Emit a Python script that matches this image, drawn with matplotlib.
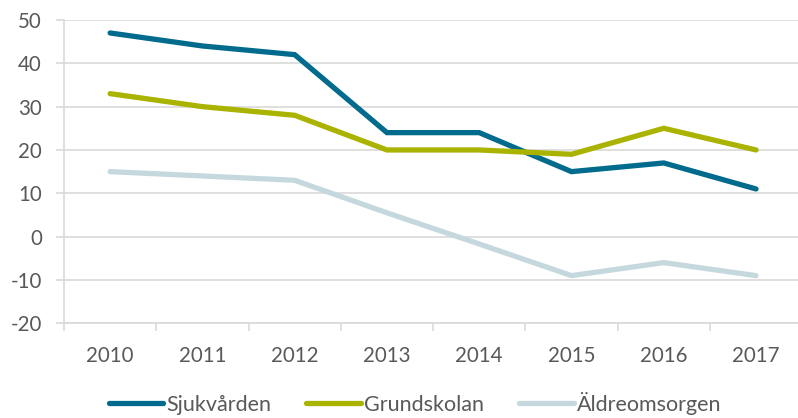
import numpy as np
import matplotlib
matplotlib.use("Agg")
import matplotlib.pyplot as plt
import matplotlib.ticker as ticker

TXTCOLOR = "#595959"
GRIDCOLOR = "#D9D9D9"

years = ["2010", "2011", "2012", "2013", "2014", "2015", "2016", "2017"]
sjukvarden = [47, 44, 42, 24, 24, 15, 17, 11]
grundskolan = [33, 30, 28, 20, 20, 19, 25, 20]
aldreomsorgen = [15, 14, 13, 5.5, -1.7, -9, -6, -9]

series_names = ["Sjukvården", "Grundskolan", "Äldreomsorgen"]
series_colors = ["#006B8C", "#A9B300", "#C5D8DE"]

plt.rcParams["font.family"] = ["Lato", "DejaVu Sans"]
plt.rcParams["axes.unicode_minus"] = False

fig = plt.figure(figsize=(7.98, 4.18), dpi=100)
ax = fig.add_axes([0.0802, 0.2266, 0.925, 0.7256])

x = np.arange(len(years))
for vals, name, col in zip([sjukvarden, grundskolan, aldreomsorgen], series_names, series_colors):
    ax.plot(x, vals, color=col, lw=3.8, label=name, solid_capstyle="round", solid_joinstyle="miter")

ax.set_xlim(-0.5, len(years) - 0.5)
ax.set_ylim(-20, 50)
ax.yaxis.set_major_locator(ticker.MultipleLocator(10))
ax.set_xticks(x)
ax.set_xticklabels(years)
ax.set_xticks(np.arange(-0.5, len(years), 1.0), minor=True)

ax.grid(axis="y", color=GRIDCOLOR, lw=1.2)
ax.set_axisbelow(True)

for s in ["top", "right"]:
    ax.spines[s].set_visible(False)
for s in ["left", "bottom"]:
    ax.spines[s].set_color(GRIDCOLOR)
    ax.spines[s].set_linewidth(1.2)

ax.tick_params(axis="y", length=6, width=1.2, color=GRIDCOLOR, labelcolor=TXTCOLOR,
               labelsize=14.8, pad=10)
ax.tick_params(axis="x", which="major", length=0, labelcolor=TXTCOLOR, labelsize=14.8, pad=16)
ax.tick_params(axis="x", which="minor", length=6, width=1.2, color=GRIDCOLOR)

fig.legend(loc="center", bbox_to_anchor=(0.52, 0.035), ncol=3, frameon=False,
           fontsize=15.5, labelcolor=TXTCOLOR, handlelength=2.55, handletextpad=0.15,
           columnspacing=1.6, borderpad=0.2)

fig.savefig("out.png", dpi=100)
